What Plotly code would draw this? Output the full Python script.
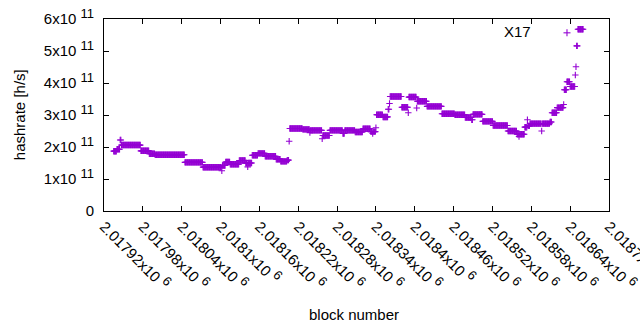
import plotly.graph_objects as go

# Hashrate estimate per block, run-length encoded: the value holds from
# run_start_block up to (not including) the next run start.
run_start_block = [
    2017935, 2017940, 2017945, 2017947, 2017977, 2017990, 2017999, 2018045,
    2018073, 2018102, 2018103, 2018108, 2018115, 2018129, 2018139, 2018142,
    2018143, 2018149, 2018158, 2018169, 2018186, 2018193, 2018203, 2018206,
    2018207, 2018227, 2018238, 2018239, 2018257, 2018258, 2018269, 2018289,
    2018292, 2018308, 2018320, 2018332, 2018335, 2018336, 2018340, 2018341,
    2018351, 2018359, 2018361, 2018362, 2018380, 2018390, 2018391, 2018403,
    2018404, 2018419, 2018442, 2018462, 2018478, 2018488, 2018490, 2018505,
    2018521, 2018544, 2018558, 2018561, 2018562, 2018570, 2018574, 2018575,
    2018578, 2018596, 2018597, 2018609, 2018612, 2018620, 2018630, 2018631,
    2018635, 2018640, 2018648, 2018649, 2018650, 2018652,
]
run_hashrate = [
    1.87e11, 1.93e11, 2.22e11, 2.06e11, 1.88e11, 1.79e11, 1.76e11, 1.52e11,
    1.37e11, 1.26e11, 1.42e11, 1.53e11, 1.46e11, 1.58e11, 1.50e11, 1.38e11,
    1.50e11, 1.74e11, 1.80e11, 1.71e11, 1.62e11, 1.55e11, 1.59e11, 2.18e11,
    2.58e11, 2.55e11, 2.45e11, 2.52e11, 2.26e11, 2.36e11, 2.52e11, 2.42e11,
    2.52e11, 2.47e11, 2.57e11, 2.48e11, 2.42e11, 2.48e11, 2.60e11, 3.01e11,
    2.94e11, 3.18e11, 3.36e11, 3.58e11, 3.24e11, 3.07e11, 3.56e11, 3.22e11,
    3.43e11, 3.27e11, 3.04e11, 3.01e11, 2.92e11, 2.85e11, 3.02e11, 2.80e11,
    2.67e11, 2.50e11, 2.40e11, 2.33e11, 2.40e11, 2.62e11, 2.85e11, 2.66e11,
    2.73e11, 2.50e11, 2.73e11, 2.78e11, 3.07e11, 3.23e11, 3.33e11, 3.79e11,
    4.04e11, 3.89e11, 4.25e11, 4.51e11, 5.16e11, 5.68e11,
]
last_block = 2018660

SUP = "<sup><span style='font-size:13px'>%s</span></sup>"
x_tick_vals = [2017920, 2017980, 2018040, 2018100, 2018160, 2018220, 2018280,
               2018340, 2018400, 2018460, 2018520, 2018580, 2018640, 2018700]
x_tick_mantissa = ["2.01792", "2.01798", "2.01804", "2.0181", "2.01816", "2.01822",
                   "2.01828", "2.01834", "2.0184", "2.01846", "2.01852", "2.01858",
                   "2.01864", "2.0187"]
x_tick_text = [m + "x10 " + SUP % "6" for m in x_tick_mantissa]
y_tick_vals = [0, 1e11, 2e11, 3e11, 4e11, 5e11, 6e11]
y_tick_text = ["0"] + ["%dx10 " % k + SUP % "11" for k in range(1, 7)]
series_name = "X17"

blocks, hashrate = [], []
for i, start in enumerate(run_start_block):
    end = run_start_block[i + 1] if i + 1 < len(run_start_block) else last_block + 1
    for b in range(start, end):
        blocks.append(b)
        hashrate.append(run_hashrate[i])

COLOR = "#9400D3"
FONT = "Liberation Sans, Arial, sans-serif"

fig = go.Figure()
fig.add_trace(go.Scatter(
    x=blocks, y=hashrate, mode="markers", name=series_name, showlegend=False,
    marker=dict(symbol="cross-thin-open", size=4.6, color=COLOR,
                line=dict(color=COLOR, width=1.1)),
))

axis_common = dict(showgrid=False, zeroline=False, showline=True, linecolor="black",
                   linewidth=1, mirror="ticks", ticks="inside", ticklen=5,
                   tickcolor="black", tickwidth=1, automargin=False,
                   ticklabeloverflow="allow",
                   tickfont=dict(family=FONT, size=15, color="#000000"))

fig.update_layout(
    width=640, height=330,
    margin=dict(l=104, r=31, t=19, b=119),
    paper_bgcolor="white", plot_bgcolor="white",
    font=dict(family=FONT, size=15, color="#000000"),
    xaxis=dict(range=[2017920, 2018700], tickvals=x_tick_vals, ticktext=x_tick_text,
               tickangle=45, **axis_common),
    yaxis=dict(range=[0, 6e11], tickvals=y_tick_vals, ticktext=y_tick_text,
               ticklabelstandoff=6, **axis_common),
    annotations=[
        dict(text="hashrate [h/s]", x=-0.168, y=0.5, xref="paper", yref="paper",
             textangle=-90, showarrow=False, xanchor="center", yanchor="middle",
             font=dict(family=FONT, size=15)),
        dict(text="block number", x=0.495, xref="paper", y=-0.54, yref="paper",
             showarrow=False, xanchor="center", yanchor="middle",
             font=dict(family=FONT, size=15)),
        dict(text=series_name, x=0.8495, y=0.934, xref="paper", yref="paper",
             showarrow=False, xanchor="right", yanchor="middle",
             font=dict(family=FONT, size=15)),
    ],
    shapes=[
        dict(type="line", xref="paper", yref="paper", xsizemode="pixel", ysizemode="pixel",
             xanchor=0.9168, yanchor=0.928, x0=-3.5, x1=3.5, y0=0, y1=0,
             line=dict(color=COLOR, width=1.1)),
        dict(type="line", xref="paper", yref="paper", xsizemode="pixel", ysizemode="pixel",
             xanchor=0.9168, yanchor=0.928, x0=0, x1=0, y0=-3.5, y1=3.5,
             line=dict(color=COLOR, width=1.1)),
    ],
)

fig.write_html("out.html", config={"displayModeBar": False},
               post_script="document.body.style.margin='0';document.body.style.overflow='hidden';")
